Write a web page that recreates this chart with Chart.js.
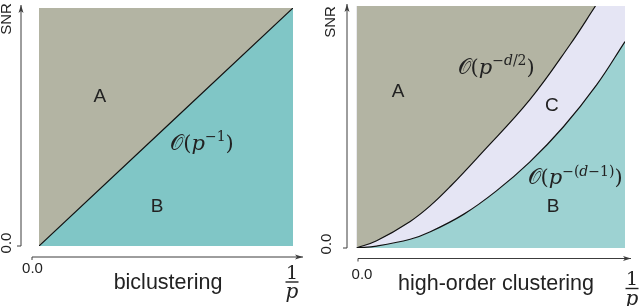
<!DOCTYPE html>
<html lang="en">
  <head>
    <meta charset="UTF-8" />
    <title>SNR regions</title>
    <script src="https://cdn.jsdelivr.net/npm/chart.js"></script>
    <style>
      body { margin: 0; background: #fff; }
      .wrap { display: flex; width: 640px; height: 306px; }
      canvas { display: block; }
    </style>
  </head>
  <body>
    <div class="wrap">
      <canvas id="biChart" width="320" height="306"></canvas>
      <canvas id="hoChart" width="320" height="306"></canvas>
    </div>

    <script>
      // left panel: single boundary O(p^-1)
      const biX = [0, 1];
      const biY = [0, 1];
      // right panel: the two boundaries
      const upperX = [0, 0.075, 0.2, 0.275, 0.35, 0.46, 0.645, 0.795, 0.89];
      const upperY = [0, 0.03, 0.11, 0.175, 0.255, 0.385, 0.612, 0.84, 1.0];
      const lowerX = [0, 0.075, 0.2, 0.275, 0.4, 0.52, 0.645, 0.77, 0.895, 1];
      const lowerY = [0, 0.008, 0.036, 0.067, 0.14, 0.235, 0.355, 0.5, 0.675, 0.853];
      const tickLabels = ["0.0"];
      const yTitle = "SNR";
      const xTitles = ["biclustering", "high-order clustering"];

      const GREY = "#b3b4a3";
      const TEAL_L = "#80c6c6";
      const TEAL_R = "#9dd2d2";
      const LAV = "#e5e5f4";
      const AXIS = "#3c3c3c";

      const pts = (xs, ys) => xs.map((x, i) => ({ x: x, y: ys[i] }));

      // O(p^{...}) drawn piece by piece
      function drawBigO(ctx, cx, cy, sup) {
        const pieces = [["\u{1D4AA}", "n", 0], ["(", "n", 0], ["p", "i", 0]];
        sup.forEach((s) => pieces.push([s[0], s[1], 1]));
        pieces.push([")", "n", 0]);
        const fontOf = (p) =>
          (p[1] === "i" ? "italic " : "") + (p[2] ? "14px" : "21px") + " 'DejaVu Serif', serif";
        let w = 0;
        pieces.forEach((p) => {
          ctx.font = fontOf(p);
          w += ctx.measureText(p[0]).width;
        });
        let x = cx - w / 2;
        ctx.textAlign = "left";
        ctx.textBaseline = "alphabetic";
        pieces.forEach((p) => {
          ctx.font = fontOf(p);
          ctx.fillText(p[0], x, cy + 7 - (p[2] ? 8.5 : 0));
          x += ctx.measureText(p[0]).width;
        });
      }

      function arrow(ctx, x1, y1, x2, y2) {
        const ang = Math.atan2(y2 - y1, x2 - x1);
        ctx.beginPath();
        ctx.moveTo(x1, y1);
        ctx.lineTo(x2, y2);
        ctx.stroke();
        ctx.beginPath();
        ctx.moveTo(x2, y2);
        ctx.lineTo(x2 - 8 * Math.cos(ang) + 2.5 * Math.sin(ang), y2 - 8 * Math.sin(ang) - 2.5 * Math.cos(ang));
        ctx.lineTo(x2 - 6 * Math.cos(ang), y2 - 6 * Math.sin(ang));
        ctx.lineTo(x2 - 8 * Math.cos(ang) - 2.5 * Math.sin(ang), y2 - 8 * Math.sin(ang) + 2.5 * Math.cos(ang));
        ctx.closePath();
        ctx.fill();
      }

      const decor = {
        id: "decor",
        beforeDatasetsDraw(chart, args, o) {
          if (!o.bg) return;
          const a = chart.chartArea;
          chart.ctx.save();
          chart.ctx.fillStyle = o.bg;
          chart.ctx.fillRect(a.left, a.top, a.right - a.left, a.bottom - a.top);
          chart.ctx.restore();
        },
        afterDraw(chart, args, o) {
          const ctx = chart.ctx;
          const a = chart.chartArea;
          const sx = chart.scales.x;
          const sy = chart.scales.y;
          ctx.save();
          ctx.strokeStyle = AXIS;
          ctx.fillStyle = AXIS;
          ctx.lineWidth = 1;

          // y axis with arrow and a tick at 0
          const ax = a.left - o.yGap;
          arrow(ctx, ax, a.bottom, ax, o.yTop);
          ctx.beginPath();
          ctx.moveTo(ax - 4, a.bottom);
          ctx.lineTo(ax, a.bottom);
          ctx.stroke();
          // x axis with arrow
          const ay = a.bottom + o.xGap;
          arrow(ctx, o.xStart, ay, o.xEnd, ay);
          ctx.beginPath();
          ctx.moveTo(o.xStart, ay);
          ctx.lineTo(o.xStart, ay + 3);
          ctx.stroke();

          ctx.fillStyle = "#222";
          ctx.font = "15px 'Liberation Sans', Arial, sans-serif";
          ctx.textAlign = "center";
          ctx.textBaseline = "middle";
          ctx.fillText(tickLabels[0], o.xTick[0], o.xTick[1]);
          ctx.save();
          ctx.translate(o.yTick[0], o.yTick[1]);
          ctx.rotate(-Math.PI / 2);
          ctx.fillText(tickLabels[0], 0, 0);
          ctx.restore();
          ctx.save();
          ctx.translate(o.yName[0], o.yName[1]);
          ctx.rotate(-Math.PI / 2);
          ctx.fillText(yTitle, 0, 0);
          ctx.restore();

          ctx.font = "21.5px 'Liberation Sans', Arial, sans-serif";
          ctx.textBaseline = "alphabetic";
          ctx.fillText(o.title, o.titlePos[0], o.titlePos[1]);

          // 1/p at the end of the x axis
          const fx = o.frac[0];
          const fy = o.frac[1];
          ctx.font = "19px 'DejaVu Serif', serif";
          ctx.fillText("1", fx, fy - 3.5);
          ctx.fillRect(fx - 6.5, fy - 0.7, 13, 1.4);
          ctx.font = "italic 20px 'DejaVu Serif', serif";
          ctx.fillText("p", fx, fy + 16);

          // region letters
          ctx.font = "19px 'Liberation Sans', Arial, sans-serif";
          ctx.textBaseline = "middle";
          o.regions.forEach((r) => {
            ctx.fillText(r[0], sx.getPixelForValue(r[1]), sy.getPixelForValue(r[2]));
          });
          o.rates.forEach((r) => {
            drawBigO(ctx, sx.getPixelForValue(r[0]), sy.getPixelForValue(r[1]), r[2]);
          });
          ctx.restore();
        },
      };

      function baseOptions(pad, deco) {
        return {
          responsive: false,
          animation: false,
          devicePixelRatio: 1,
          layout: { padding: pad },
          elements: { point: { radius: 0 }, line: { tension: 0.4 } },
          scales: {
            x: { type: "linear", min: 0, max: 1, display: false },
            y: { type: "linear", min: 0, max: 1, display: false },
          },
          plugins: { legend: { display: false }, tooltip: { enabled: false }, decor: deco },
        };
      }

      new Chart(document.getElementById("biChart"), {
        type: "line",
        data: {
          datasets: [
            { data: pts(biX, biY), fill: false, borderColor: "#111", borderWidth: 1.2, order: 0 },
            { data: pts(biX, biY), fill: "end", backgroundColor: GREY, borderWidth: 0, order: 1 },
            { data: pts(biX, biY), fill: "start", backgroundColor: TEAL_L, borderWidth: 0, order: 1 },
          ],
        },
        options: baseOptions(
          { left: 39, right: 27, top: 8, bottom: 60 },
          {
            yGap: 18, yTop: 5, xGap: 11, xStart: 32, xEnd: 303,
            xTick: [32.5, 269], yTick: [7, 243], yName: [7, 19],
            title: xTitles[0], titlePos: [168, 289], frac: [292, 282],
            regions: [["A", 0.24, 0.626], ["B", 0.465, 0.164]],
            rates: [[0.642, 0.433, [["\u2212", "n"], ["1", "n"]]]],
          }
        ),
        plugins: [decor],
      });

      new Chart(document.getElementById("hoChart"), {
        type: "line",
        data: {
          datasets: [
            { data: pts(upperX, upperY), fill: false, borderColor: "#111", borderWidth: 1.2, order: 0 },
            { data: pts(lowerX, lowerY), fill: false, borderColor: "#111", borderWidth: 1.2, order: 0 },
            { data: pts(upperX, upperY), fill: "end", backgroundColor: GREY, borderWidth: 0, order: 1 },
            { data: pts(lowerX, lowerY), fill: "start", backgroundColor: TEAL_R, borderWidth: 0, order: 1 },
          ],
        },
        options: baseOptions(
          { left: 36.5, right: 15, top: 6, bottom: 58 },
          {
            bg: LAV,
            yGap: 9.5, yTop: 4, xGap: 10.5, xStart: 38, xEnd: 311,
            xTick: [42, 275], yTick: [7, 244], yName: [11, 22],
            title: xTitles[1], titlePos: [176, 290], frac: [312, 288.5],
            regions: [["A", 0.155, 0.645], ["C", 0.728, 0.587], ["B", 0.732, 0.169]],
            rates: [
              [0.52, 0.748, [["\u2212", "n"], ["d", "i"], ["/", "n"], ["2", "n"]]],
              [0.814, 0.293, [["\u2212", "n"], ["(", "n"], ["d", "i"], ["\u2212", "n"], ["1", "n"], [")", "n"]]],
            ],
          }
        ),
        plugins: [decor],
      });
    </script>
  </body>
</html>
